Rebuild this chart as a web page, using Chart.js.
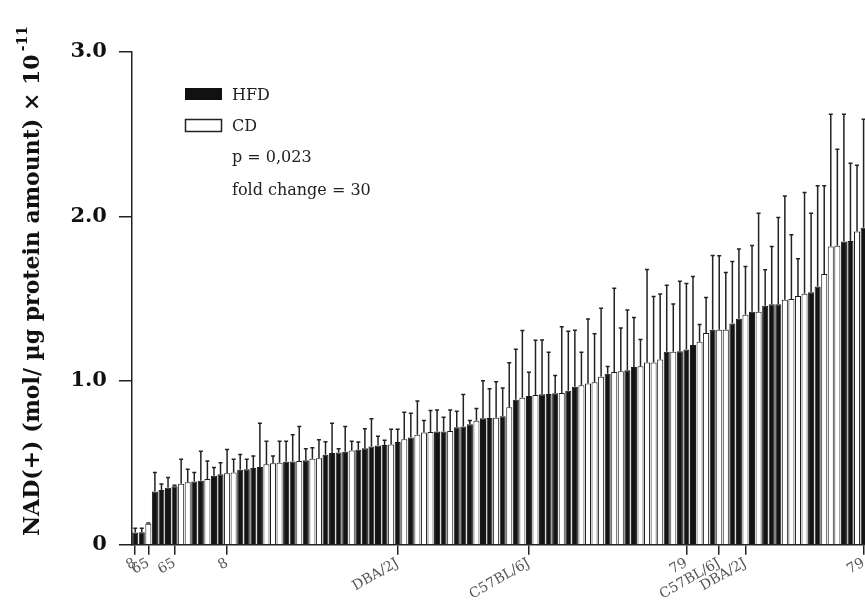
<!DOCTYPE html>
<html>
<head>
<meta charset="utf-8">
<script src="https://cdn.jsdelivr.net/npm/chart.js@4.4.0/dist/chart.umd.min.js"></script>
<style>
  html, body { margin: 0; padding: 0; background: #fff; overflow: hidden; }
  #wrap { width: 872px; height: 608px; }
</style>
</head>
<body>
<div id="wrap"><canvas id="chart" width="872" height="608"></canvas></div>
<script>
// mean NAD(+) per strain, sorted ascending (x 10^-11)
const means = [
  0.075,0.077,0.128,0.325,0.333,0.347,0.357,0.371,0.380,0.385,
  0.390,0.400,0.420,0.430,0.436,0.440,0.456,0.460,0.467,0.473,
  0.490,0.497,0.500,0.505,0.507,0.510,0.515,0.523,0.527,0.548,
  0.558,0.562,0.566,0.574,0.578,0.588,0.598,0.604,0.608,0.610,
  0.625,0.643,0.653,0.670,0.683,0.686,0.690,0.690,0.692,0.716,
  0.720,0.734,0.755,0.770,0.772,0.773,0.783,0.838,0.883,0.895,
  0.905,0.912,0.916,0.918,0.922,0.924,0.938,0.962,0.971,0.982,
  0.990,1.023,1.041,1.052,1.057,1.063,1.083,1.087,1.110,1.110,
  1.128,1.175,1.175,1.178,1.189,1.216,1.236,1.290,1.309,1.309,
  1.309,1.347,1.376,1.400,1.418,1.418,1.455,1.465,1.465,1.491,
  1.497,1.514,1.528,1.538,1.572,1.649,1.816,1.820,1.846,1.850,
  1.907,1.930
];
// upper error (SD)
const errors = [
  0.025,0.023,0.005,0.115,0.037,0.063,0.005,0.149,0.080,0.055,
  0.180,0.110,0.050,0.070,0.144,0.080,0.094,0.060,0.073,0.267,
  0.140,0.043,0.130,0.125,0.163,0.210,0.070,0.067,0.113,0.079,
  0.182,0.022,0.154,0.056,0.047,0.118,0.169,0.056,0.029,0.094,
  0.079,0.164,0.147,0.206,0.074,0.131,0.130,0.087,0.128,0.097,
  0.195,0.023,0.075,0.228,0.178,0.220,0.171,0.270,0.307,0.410,
  0.145,0.333,0.331,0.254,0.108,0.404,0.362,0.344,0.201,0.393,
  0.294,0.417,0.044,0.510,0.262,0.367,0.301,0.163,0.566,0.401,
  0.398,0.405,0.291,0.427,0.401,0.417,0.105,0.216,0.452,0.451,
  0.348,0.378,0.424,0.294,0.404,0.601,0.219,0.351,0.527,0.633,
  0.390,0.227,0.616,0.481,0.613,0.536,0.805,0.588,0.775,0.473,
  0.403,0.660
];
// H = HFD, C = CD
const diet = ('HHCHHHHCCH' + 'HCHHCCHHHH' + 'CCCHHCHCCH' + 'HHHCHHHHHC' +
              'HCHCCCHHCH' + 'HHCHHCHCHC' + 'HCHHHCHHCC' + 'CCHCCHHCCC' +
              'CHCHHHCCHC' + 'CHHCHCHHHC' + 'CCCHHCCCHH' + 'CH').split('');
// sparse strain labels under the axis
const labelIndex = [0, 2, 6, 14, 40, 60, 84, 89, 93, 111];
const labelText = ['8', '65', '65', '8', 'DBA/2J', 'C57BL/6J', '79', 'C57BL/6J', 'DBA/2J', '79'];

const legendItems = ['HFD', 'CD'];
const notes = ['p = 0,023', 'fold change = 30'];
const yTitle = 'NAD(+) (mol/ µg protein amount) × 10';
const yTitleExp = '-11';

function tickLabel(i) {
  const k = labelIndex.indexOf(i);
  return k >= 0 ? labelText[k] : '';
}

const errorBars = {
  id: 'errorBars',
  afterDatasetsDraw(chart) {
    const c = chart.ctx;
    const y = chart.scales.y;
    const meta = chart.getDatasetMeta(0);
    c.save();
    c.strokeStyle = '#222';
    c.lineWidth = 1.5;
    meta.data.forEach((bar, i) => {
      const top = y.getPixelForValue(means[i] + errors[i]);
      c.beginPath();
      c.moveTo(bar.x, bar.y);
      c.lineTo(bar.x, top);
      c.moveTo(bar.x - 2, top);
      c.lineTo(bar.x + 2, top);
      c.stroke();
    });
    c.restore();
  }
};

// legend, notes and the axis title with its exponent
const annotations = {
  id: 'annotations',
  afterDraw(chart) {
    const c = chart.ctx;
    c.save();
    c.fillStyle = '#111';
    c.fillRect(185, 88, 37, 12);
    c.strokeStyle = '#222';
    c.lineWidth = 1.5;
    c.strokeRect(185.5, 119.5, 36, 12);
    c.font = '16px "DejaVu Serif"';
    c.fillStyle = '#222';
    c.textBaseline = 'alphabetic';
    c.fillText(legendItems[0], 232, 100);
    c.fillText(legendItems[1], 232, 131);
    c.fillText(notes[0], 232, 162);
    c.fillText(notes[1], 232, 195);

    c.translate(39, 536);
    c.rotate(-Math.PI / 2);
    c.fillStyle = '#111';
    c.font = 'bold 22px "DejaVu Serif"';
    c.fillText(yTitle, 0, 0);
    const w = c.measureText(yTitle).width;
    c.font = 'bold 14px "DejaVu Serif"';
    c.fillText(yTitleExp, w + 3, -12);
    c.restore();
  }
};

new Chart(document.getElementById('chart'), {
  type: 'bar',
  data: {
    labels: means.map((v, i) => i),
    datasets: [{
      data: means,
      backgroundColor: diet.map(d => d === 'H' ? '#141414' : '#ffffff'),
      borderColor: '#1a1a1a',
      borderWidth: 1,
      barPercentage: 1,
      categoryPercentage: 0.92
    }]
  },
  options: {
    responsive: false,
    animation: false,
    layout: { padding: { top: 52, left: 18, right: 2, bottom: 5 } },
    plugins: { legend: { display: false }, tooltip: { enabled: false } },
    scales: {
      x: {
        grid: {
          drawOnChartArea: false,
          offset: false,
          tickLength: 10,
          lineWidth: 1.5,
          color: ctx => tickLabel(ctx.index) ? '#222' : 'rgba(0,0,0,0)'
        },
        border: { display: true, color: '#222', width: 1.5 },
        ticks: {
          autoSkip: false,
          maxRotation: 30,
          minRotation: 30,
          padding: 0,
          color: '#555',
          font: { family: 'DejaVu Serif', size: 14 },
          callback: (v, i) => tickLabel(i)
        }
      },
      y: {
        min: 0,
        max: 3,
        grid: { drawOnChartArea: false, tickLength: 13, lineWidth: 1.5, color: '#222' },
        border: { display: true, color: '#222', width: 1.5 },
        ticks: {
          stepSize: 1,
          padding: 12,
          color: '#111',
          font: { family: 'DejaVu Serif', size: 21, weight: 'bold' },
          callback: v => v === 0 ? '0' : v.toFixed(1)
        },
        title: {
          // space is reserved here; the text itself is drawn by the annotations plugin
          display: true,
          text: yTitle,
          color: 'rgba(0,0,0,0)',
          font: { family: 'DejaVu Serif', size: 22, weight: 'bold' },
          padding: { top: 0, bottom: 14 }
        }
      }
    }
  },
  plugins: [errorBars, annotations]
});
</script>
</body>
</html>
